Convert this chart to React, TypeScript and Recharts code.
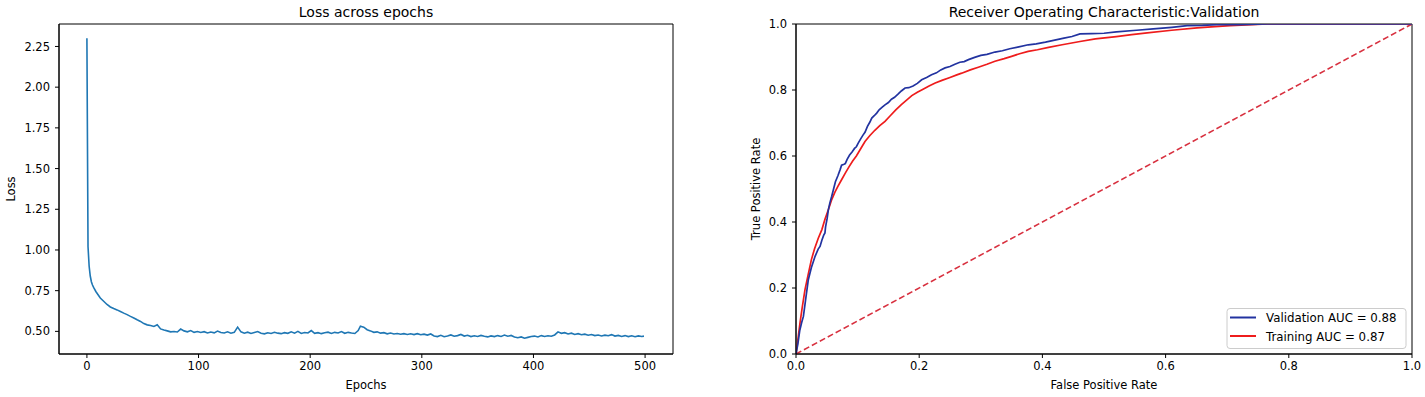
import React from 'react';
import { LineChart, Line, XAxis, YAxis, ReferenceArea } from 'recharts';

const FONT = "'DejaVu Sans', sans-serif";

// ---------- Loss across epochs ----------
const lossEpochs = [
  0, 1, 2, 3, 4, 5, 6, 8, 10, 12, 15, 18, 21, 24, 27, 30, 33, 36, 39, 42, 45, 48, 51, 54, 57, 60,
  63, 66, 69, 72, 75, 78, 81, 84, 87, 90, 93, 96, 99, 102, 105, 108, 111, 114, 117, 120, 123, 126,
  129, 132, 135, 138, 141, 144, 147, 150, 153, 156, 159, 162, 165, 168, 171, 174, 177, 180, 183,
  186, 189, 192, 195, 198, 201, 204, 207, 210, 213, 216, 219, 222, 225, 228, 231, 234, 237, 240,
  243, 245, 248, 251, 254, 257, 260, 263, 266, 269, 272, 275, 278, 281, 284, 287, 290, 293, 296,
  299, 302, 305, 308, 311, 314, 317, 320, 323, 326, 329, 332, 335, 338, 341, 344, 347, 350, 353,
  356, 359, 362, 365, 368, 371, 374, 377, 380, 383, 386, 389, 392, 395, 398, 401, 404, 407, 410,
  413, 416, 419, 422, 425, 428, 431, 434, 437, 440, 443, 446, 449, 452, 455, 458, 461, 464, 467,
  470, 473, 476, 479, 482, 485, 488, 491, 494, 497, 499,
];
const lossValues = [
  2.3, 1.02, 0.9, 0.84, 0.805, 0.785, 0.77, 0.745, 0.725, 0.705, 0.685, 0.665, 0.65, 0.64, 0.632,
  0.622, 0.612, 0.603, 0.592, 0.582, 0.571, 0.561, 0.548, 0.54, 0.536, 0.53,
  0.541, 0.515, 0.508, 0.503, 0.497, 0.499, 0.496, 0.514, 0.503, 0.497, 0.505, 0.494, 0.499, 0.493,
  0.498, 0.49, 0.496, 0.491, 0.502, 0.493, 0.49, 0.497,
  0.489, 0.494, 0.526, 0.497, 0.489, 0.495, 0.487, 0.493, 0.499, 0.488, 0.485, 0.491, 0.487, 0.494,
  0.489, 0.486, 0.492, 0.488, 0.497,
  0.489, 0.5, 0.487, 0.493, 0.49, 0.505, 0.488, 0.492, 0.486, 0.491, 0.495, 0.487, 0.494, 0.49,
  0.499, 0.488, 0.494, 0.49, 0.487,
  0.505, 0.532, 0.526, 0.51, 0.503, 0.494, 0.497, 0.489, 0.492, 0.485, 0.49, 0.484, 0.487, 0.482,
  0.486, 0.481, 0.485, 0.48, 0.486,
  0.479, 0.483, 0.477, 0.484, 0.472, 0.468, 0.476, 0.467, 0.472, 0.478, 0.47, 0.474, 0.481, 0.471,
  0.476, 0.468, 0.473, 0.469, 0.475,
  0.47, 0.466, 0.472, 0.468, 0.474, 0.469, 0.477, 0.47, 0.475, 0.466, 0.461, 0.466, 0.458, 0.463,
  0.468, 0.471, 0.466, 0.474, 0.469,
  0.473, 0.47, 0.478, 0.497, 0.488, 0.492, 0.484, 0.489, 0.481, 0.486, 0.479, 0.483, 0.476, 0.481,
  0.474, 0.478, 0.472, 0.477, 0.473,
  0.48, 0.471, 0.475, 0.469, 0.474, 0.468, 0.473, 0.467, 0.472, 0.469, 0.471,
];
const lossXTicks = [0, 100, 200, 300, 400, 500];
const lossYTicks = [0.5, 0.75, 1.0, 1.25, 1.5, 1.75, 2.0, 2.25];
const lossXDomain = [-25, 525];
const lossYDomain = [0.361, 2.388];

// ---------- ROC ----------
const valFpr = [
  0, 0.003, 0.006, 0.009, 0.012, 0.016, 0.02, 0.025, 0.031, 0.036, 0.039, 0.042, 0.045, 0.047, 0.048,
  0.0505, 0.0525, 0.055, 0.058, 0.061, 0.064, 0.068, 0.0715, 0.074, 0.078, 0.08, 0.083, 0.087, 0.091,
  0.095, 0.098, 0.101, 0.105, 0.109, 0.112, 0.116, 0.12, 0.123, 0.127, 0.131, 0.135, 0.14, 0.1445,
  0.15, 0.155, 0.16, 0.166, 0.171, 0.177, 0.183, 0.19, 0.197, 0.204, 0.212, 0.22, 0.228, 0.235, 0.242,
  0.25, 0.258, 0.266, 0.273, 0.28, 0.29, 0.3, 0.31, 0.323, 0.335, 0.347, 0.36, 0.377, 0.39, 0.405,
  0.42, 0.435, 0.448, 0.461, 0.48, 0.5, 0.52, 0.553, 0.58, 0.61, 0.635, 0.66, 0.683, 0.72, 0.765, 1.0,
];
const valTpr = [
  0, 0.03, 0.07, 0.094, 0.114, 0.17, 0.225, 0.262, 0.296, 0.318, 0.326, 0.345, 0.36, 0.367, 0.385,
  0.41, 0.437, 0.458, 0.478, 0.5, 0.522, 0.54, 0.558, 0.572, 0.575, 0.577, 0.59, 0.603, 0.612,
  0.623, 0.628, 0.639, 0.652, 0.664, 0.672, 0.69, 0.703, 0.715, 0.722, 0.73, 0.74, 0.748, 0.755,
  0.762, 0.772, 0.778, 0.788, 0.797, 0.806, 0.807, 0.812, 0.82, 0.831, 0.838, 0.846, 0.852, 0.861, 0.867,
  0.871, 0.878, 0.884, 0.886, 0.892, 0.899, 0.905, 0.908, 0.915, 0.919, 0.925, 0.93, 0.937, 0.94, 0.945,
  0.951, 0.957, 0.962, 0.97, 0.971, 0.972, 0.976, 0.981, 0.985, 0.99, 0.995, 0.996, 0.998, 0.998, 1.0, 1.0,
];
const trainFpr = [
  0, 0.0035, 0.0065, 0.01, 0.0146, 0.02, 0.025, 0.03, 0.036, 0.042, 0.047, 0.0525, 0.058, 0.063, 0.068,
  0.074, 0.08, 0.086, 0.092, 0.098, 0.105, 0.112, 0.12, 0.128, 0.136, 0.1445, 0.153, 0.162, 0.171, 0.18,
  0.188, 0.197, 0.207, 0.216, 0.226, 0.238, 0.25, 0.26, 0.269, 0.283, 0.296, 0.31, 0.323, 0.338, 0.35,
  0.363, 0.377, 0.392, 0.41, 0.432, 0.461, 0.486, 0.52, 0.545, 0.57, 0.61, 0.651, 0.68, 0.705, 0.74,
  0.765, 1.0,
];
const trainTpr = [
  0, 0.05, 0.094, 0.14, 0.195, 0.243, 0.286, 0.318, 0.35, 0.377, 0.408, 0.437, 0.468, 0.49, 0.508,
  0.528, 0.548, 0.567, 0.585, 0.6, 0.622, 0.644, 0.662, 0.678, 0.692, 0.705, 0.722, 0.74, 0.756, 0.77,
  0.783, 0.793, 0.803, 0.812, 0.821, 0.83, 0.838, 0.845, 0.851, 0.861, 0.869, 0.878, 0.887, 0.895, 0.902,
  0.91, 0.917, 0.922, 0.929, 0.937, 0.947, 0.955, 0.962, 0.968, 0.973, 0.981, 0.988, 0.992, 0.995, 0.998,
  1.0, 1.0,
];
const diagFpr = [0, 1];
const diagTpr = [0, 1];
const rocTicks = [0, 0.2, 0.4, 0.6, 0.8, 1.0];
const legendLabels = ['Validation AUC = 0.88', 'Training AUC = 0.87'];

const lossData = lossEpochs.map((e, i) => ({ x: e, y: lossValues[i] }));
const valData = valFpr.map((f, i) => ({ x: f, y: valTpr[i] }));
const trainData = trainFpr.map((f, i) => ({ x: f, y: trainTpr[i] }));
const diagData = diagFpr.map((f, i) => ({ x: f, y: diagTpr[i] }));

const TICK_FS = 11.5;
const tickStyle = { fill: '#000', fontSize: TICK_FS, fontFamily: FONT };
const VAL_COLOR = '#2233a0';
const TRAIN_COLOR = '#ee1c1c';
const DIAG_COLOR = '#d8303f';

export default function App() {
  return (
    <div style={{ position: 'absolute', left: 0, top: 0, width: 1425, height: 397, background: '#fff', fontFamily: FONT }}>
      <div style={{ position: 'absolute', left: 0, top: 0 }}>
        <LineChart width={700} height={397} margin={{ top: 24, right: 27, bottom: 13, left: 9 }}>
          <XAxis
            dataKey="x"
            type="number"
            domain={lossXDomain}
            allowDataOverflow
            ticks={lossXTicks}
            tick={tickStyle}
            tickSize={4}
            tickMargin={4}
            height={30}
            stroke="#000"
            axisLine={{ stroke: '#000' }}
            tickLine={{ stroke: '#000' }}
          />
          <YAxis
            dataKey="y"
            type="number"
            domain={lossYDomain}
            allowDataOverflow
            ticks={lossYTicks}
            tickFormatter={(v: number) => v.toFixed(2)}
            tick={tickStyle}
            tickSize={4}
            tickMargin={5}
            width={50}
            stroke="#000"
            axisLine={{ stroke: '#000' }}
            tickLine={{ stroke: '#000' }}
          />
          <ReferenceArea x1={lossXDomain[0]} x2={lossXDomain[1]} y1={lossYDomain[0]} y2={lossYDomain[1]} fill="none" stroke="#000" strokeWidth={1} />
          <Line data={lossData} dataKey="y" type="linear" stroke="#1f77b4" strokeWidth={1.6} dot={false} isAnimationActive={false} />
        </LineChart>
      </div>
      <div style={{ position: 'absolute', left: 700, top: 0 }}>
        <LineChart width={725} height={397} margin={{ top: 24, right: 13, bottom: 13, left: 46 }}>
          <XAxis
            dataKey="x"
            type="number"
            domain={[0, 1]}
            allowDataOverflow
            ticks={rocTicks}
            tickFormatter={(v: number) => v.toFixed(1)}
            tick={tickStyle}
            tickSize={4}
            tickMargin={4}
            height={30}
            stroke="#000"
            axisLine={{ stroke: '#000' }}
            tickLine={{ stroke: '#000' }}
          />
          <YAxis
            dataKey="y"
            type="number"
            domain={[0, 1]}
            allowDataOverflow
            ticks={rocTicks}
            tickFormatter={(v: number) => v.toFixed(1)}
            tick={tickStyle}
            tickSize={4}
            tickMargin={5}
            width={50}
            stroke="#000"
            axisLine={{ stroke: '#000' }}
            tickLine={{ stroke: '#000' }}
          />
          <ReferenceArea x1={0} x2={1} y1={0} y2={1} fill="none" stroke="#000" strokeWidth={1} />
          <Line data={diagData} dataKey="y" type="linear" stroke={DIAG_COLOR} strokeWidth={1.6} strokeDasharray="6 3" dot={false} isAnimationActive={false} />
          <Line data={trainData} dataKey="y" type="linear" stroke={TRAIN_COLOR} strokeWidth={1.7} dot={false} isAnimationActive={false} />
          <Line data={valData} dataKey="y" type="linear" stroke={VAL_COLOR} strokeWidth={1.7} dot={false} isAnimationActive={false} />
        </LineChart>
      </div>
      <svg width={1425} height={397} style={{ position: 'absolute', left: 0, top: 0, pointerEvents: 'none' }} fontFamily={FONT}>
        <text x={366} y={17} textAnchor="middle" fontSize={14} fill="#000">Loss across epochs</text>
        <text x={366} y={388.5} textAnchor="middle" fontSize={TICK_FS} fill="#000">Epochs</text>
        <text transform="translate(15,189) rotate(-90)" textAnchor="middle" fontSize={TICK_FS} fill="#000">Loss</text>
        <text x={1104} y={17} textAnchor="middle" fontSize={14} fill="#000">Receiver Operating Characteristic:Validation</text>
        <text x={1104} y={388.5} textAnchor="middle" fontSize={TICK_FS} fill="#000">False Positive Rate</text>
        <text transform="translate(760,189) rotate(-90)" textAnchor="middle" fontSize={TICK_FS} fill="#000">True Positive Rate</text>
        <rect x={1227} y={308.5} width={179} height={40} rx={3} ry={3} fill="#fff" fillOpacity={0.8} stroke="#cccccc" strokeWidth={1} />
        <line x1={1230} x2={1256} y1={317.5} y2={317.5} stroke={VAL_COLOR} strokeWidth={2} />
        <line x1={1230} x2={1256} y1={336} y2={336} stroke={TRAIN_COLOR} strokeWidth={2} />
        <text x={1266} y={322} fontSize={11.8} fill="#000">{legendLabels[0]}</text>
        <text x={1266} y={340.5} fontSize={11.8} fill="#000">{legendLabels[1]}</text>
      </svg>
    </div>
  );
}
